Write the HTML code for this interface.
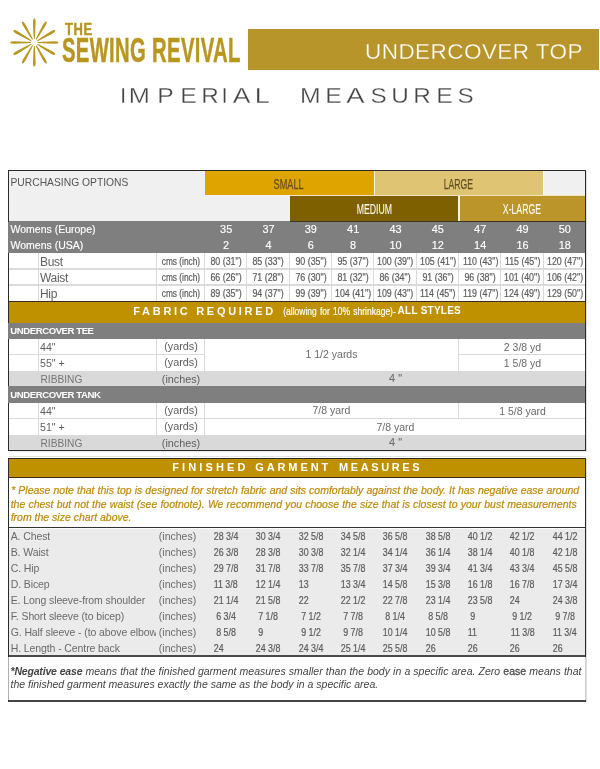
<!DOCTYPE html>
<html><head><meta charset="utf-8"><title>Undercover Top - Imperial Measures</title>
<style>
html,body{margin:0;padding:0;background:#fff;}
body{width:600px;height:769px;position:relative;overflow:hidden;font-family:"Liberation Sans",sans-serif;color:#666;}
.a{position:absolute;white-space:nowrap;}
.c{text-align:center;}
.t{position:absolute;white-space:nowrap;line-height:16px;height:16px;font-size:11.5px;color:#606060;}
.n{position:absolute;white-space:nowrap;line-height:16px;height:16px;font-size:10.8px;color:#5c5c5c;text-align:center;}
.n span{display:inline-block;transform:scaleX(0.82);transform-origin:50% 50%;-webkit-text-stroke:0.22px #5c5c5c;}
.n i{font-style:normal;visibility:hidden;}
.w{color:#fff;}
.hl{position:absolute;height:1.5px;background:#dadada;margin-top:-0.4px;}
.vl{position:absolute;width:1.5px;background:#dadada;margin-left:-0.25px;}
.cond{display:inline-block;transform-origin:50% 50%;}
</style></head><body><div id="pg" style="position:absolute;left:0;top:0;width:600px;height:769px;will-change:transform;">

<div class="a" style="left:248px;top:29px;width:351px;height:40.5px;background:#b8952a;"></div>
<div class="a" id="uct" style="left:365px;top:40px;font-size:22.5px;line-height:24px;color:#fff;-webkit-text-stroke:0.3px #b8952a;letter-spacing:0.45px;">UNDERCOVER TOP</div>
<svg class="a" style="left:8px;top:16px;" width="54" height="54" viewBox="0 0 54 54">
<path transform="translate(26.30 26.50) rotate(0)" d="M-0.4,-3.4 L0.4,-3.4 L0.85,-8 L1.3,-20 Q1.35,-23.8 0,-24.2 Q-1.35,-23.8 -1.3,-20 L-0.85,-8 Z" fill="#b8961f"/>
<path transform="translate(26.30 26.50) rotate(30)" d="M-0.4,-3.4 L0.4,-3.4 L0.85,-8 L1.3,-20 Q1.35,-23.8 0,-24.2 Q-1.35,-23.8 -1.3,-20 L-0.85,-8 Z" fill="#b8961f"/>
<path transform="translate(26.30 26.50) rotate(60)" d="M-0.4,-3.4 L0.4,-3.4 L0.85,-8 L1.3,-20 Q1.35,-23.8 0,-24.2 Q-1.35,-23.8 -1.3,-20 L-0.85,-8 Z" fill="#b8961f"/>
<path transform="translate(26.30 26.50) rotate(90)" d="M-0.4,-3.4 L0.4,-3.4 L0.85,-8 L1.3,-20 Q1.35,-23.8 0,-24.2 Q-1.35,-23.8 -1.3,-20 L-0.85,-8 Z" fill="#b8961f"/>
<path transform="translate(26.30 26.50) rotate(120)" d="M-0.4,-3.4 L0.4,-3.4 L0.85,-8 L1.3,-20 Q1.35,-23.8 0,-24.2 Q-1.35,-23.8 -1.3,-20 L-0.85,-8 Z" fill="#b8961f"/>
<path transform="translate(26.30 26.50) rotate(150)" d="M-0.4,-3.4 L0.4,-3.4 L0.85,-8 L1.3,-20 Q1.35,-23.8 0,-24.2 Q-1.35,-23.8 -1.3,-20 L-0.85,-8 Z" fill="#b8961f"/>
<path transform="translate(26.30 26.50) rotate(180)" d="M-0.4,-3.4 L0.4,-3.4 L0.85,-8 L1.3,-20 Q1.35,-23.8 0,-24.2 Q-1.35,-23.8 -1.3,-20 L-0.85,-8 Z" fill="#b8961f"/>
<path transform="translate(26.30 26.50) rotate(210)" d="M-0.4,-3.4 L0.4,-3.4 L0.85,-8 L1.3,-20 Q1.35,-23.8 0,-24.2 Q-1.35,-23.8 -1.3,-20 L-0.85,-8 Z" fill="#b8961f"/>
<path transform="translate(26.30 26.50) rotate(240)" d="M-0.4,-3.4 L0.4,-3.4 L0.85,-8 L1.3,-20 Q1.35,-23.8 0,-24.2 Q-1.35,-23.8 -1.3,-20 L-0.85,-8 Z" fill="#b8961f"/>
<path transform="translate(26.30 26.50) rotate(270)" d="M-0.4,-3.4 L0.4,-3.4 L0.85,-8 L1.3,-20 Q1.35,-23.8 0,-24.2 Q-1.35,-23.8 -1.3,-20 L-0.85,-8 Z" fill="#b8961f"/>
<path transform="translate(26.30 26.50) rotate(300)" d="M-0.4,-3.4 L0.4,-3.4 L0.85,-8 L1.3,-20 Q1.35,-23.8 0,-24.2 Q-1.35,-23.8 -1.3,-20 L-0.85,-8 Z" fill="#b8961f"/>
<path transform="translate(26.30 26.50) rotate(330)" d="M-0.4,-3.4 L0.4,-3.4 L0.85,-8 L1.3,-20 Q1.35,-23.8 0,-24.2 Q-1.35,-23.8 -1.3,-20 L-0.85,-8 Z" fill="#b8961f"/>
</svg>
<div class="a" style="left:64.5px;top:19.5px;font-size:16.6px;line-height:20px;font-weight:bold;color:#b8961f;-webkit-text-stroke:0.5px #b8961f;letter-spacing:0.8px;"><span class="cond" style="transform:scaleX(0.78);transform-origin:0 50%;">THE</span></div>
<div class="a" id="sr" style="left:62px;top:32px;font-size:35.5px;line-height:36px;font-weight:bold;color:#b8961f;-webkit-text-stroke:0.5px #b8961f;letter-spacing:0.6px;"><span class="cond" style="transform:scaleX(0.57);transform-origin:0 50%;">SEWING REVIVAL</span></div>
<div class="a c" style="left:103.1px;top:84px;width:40px;font-size:22.5px;line-height:24px;color:#444;-webkit-text-stroke:0.3px #fff;"><span class="cond" style="transform:scaleX(1);">I</span></div>
<div class="a c" style="left:119.6px;top:84px;width:40px;font-size:22.5px;line-height:24px;color:#444;-webkit-text-stroke:0.3px #fff;"><span class="cond" style="transform:scaleX(1.13);">M</span></div>
<div class="a c" style="left:145.7px;top:84px;width:40px;font-size:22.5px;line-height:24px;color:#444;-webkit-text-stroke:0.3px #fff;"><span class="cond" style="transform:scaleX(1.1);">P</span></div>
<div class="a c" style="left:168.5px;top:84px;width:40px;font-size:22.5px;line-height:24px;color:#444;-webkit-text-stroke:0.3px #fff;"><span class="cond" style="transform:scaleX(1.1);">E</span></div>
<div class="a c" style="left:190.3px;top:84px;width:40px;font-size:22.5px;line-height:24px;color:#444;-webkit-text-stroke:0.3px #fff;"><span class="cond" style="transform:scaleX(1.08);">R</span></div>
<div class="a c" style="left:204.7px;top:84px;width:40px;font-size:22.5px;line-height:24px;color:#444;-webkit-text-stroke:0.3px #fff;"><span class="cond" style="transform:scaleX(1);">I</span></div>
<div class="a c" style="left:221.8px;top:84px;width:40px;font-size:22.5px;line-height:24px;color:#444;-webkit-text-stroke:0.3px #fff;"><span class="cond" style="transform:scaleX(1.18);">A</span></div>
<div class="a c" style="left:242.3px;top:84px;width:40px;font-size:22.5px;line-height:24px;color:#444;-webkit-text-stroke:0.3px #fff;"><span class="cond" style="transform:scaleX(1.2);">L</span></div>
<div class="a c" style="left:290.75px;top:84px;width:40px;font-size:22.5px;line-height:24px;color:#444;-webkit-text-stroke:0.3px #fff;"><span class="cond" style="transform:scaleX(1.1);">M</span></div>
<div class="a c" style="left:313.7px;top:84px;width:40px;font-size:22.5px;line-height:24px;color:#444;-webkit-text-stroke:0.3px #fff;"><span class="cond" style="transform:scaleX(1.1);">E</span></div>
<div class="a c" style="left:335.6px;top:84px;width:40px;font-size:22.5px;line-height:24px;color:#444;-webkit-text-stroke:0.3px #fff;"><span class="cond" style="transform:scaleX(1.22);">A</span></div>
<div class="a c" style="left:358.25px;top:84px;width:40px;font-size:22.5px;line-height:24px;color:#444;-webkit-text-stroke:0.3px #fff;"><span class="cond" style="transform:scaleX(1.08);">S</span></div>
<div class="a c" style="left:379.75px;top:84px;width:40px;font-size:22.5px;line-height:24px;color:#444;-webkit-text-stroke:0.3px #fff;"><span class="cond" style="transform:scaleX(1.08);">U</span></div>
<div class="a c" style="left:402.5px;top:84px;width:40px;font-size:22.5px;line-height:24px;color:#444;-webkit-text-stroke:0.3px #fff;"><span class="cond" style="transform:scaleX(1.08);">R</span></div>
<div class="a c" style="left:424.7px;top:84px;width:40px;font-size:22.5px;line-height:24px;color:#444;-webkit-text-stroke:0.3px #fff;"><span class="cond" style="transform:scaleX(1.1);">E</span></div>
<div class="a c" style="left:445.5px;top:84px;width:40px;font-size:22.5px;line-height:24px;color:#444;-webkit-text-stroke:0.3px #fff;"><span class="cond" style="transform:scaleX(1.08);">S</span></div>
<div class="a" style="left:8px;top:170px;width:578px;height:51px;background:#f0f0f0;"></div>
<div class="a" style="left:205px;top:171px;width:169px;height:24px;background:#dfa400;"></div>
<div class="a" style="left:375px;top:171px;width:168px;height:24px;background:#dfc473;"></div>
<div class="a" style="left:290px;top:196px;width:168px;height:25px;background:#7f6000;"></div>
<div class="a" style="left:459px;top:196px;width:127px;height:25px;background:#bb952a;"></div>
<div class="a" style="left:373.8px;top:171px;width:1.7px;height:25px;background:#fbf4de;"></div>
<div class="a" style="left:458px;top:196px;width:1.7px;height:25px;background:#fbf4de;"></div>
<div class="a" style="left:542.6px;top:171px;width:1.6px;height:25px;background:#fff;"></div>
<div class="a" style="left:290px;top:194.8px;width:296px;height:1.3px;background:#f1e4bd;"></div>
<div class="a c" style="left:205px;top:171.5px;width:168px;font-size:15px;line-height:24px;color:#5f5026;-webkit-text-stroke:0.25px #5f5026;"><span class="cond" style="transform:scaleX(0.61);">SMALL</span></div>
<div class="a c" style="left:375px;top:171.5px;width:167px;font-size:15px;line-height:24px;color:#5f5026;-webkit-text-stroke:0.25px #5f5026;"><span class="cond" style="transform:scaleX(0.575);">LARGE</span></div>
<div class="a c" style="left:290px;top:197px;width:168px;font-size:15px;line-height:24px;color:#fffdf5;-webkit-text-stroke:0.1px #fffdf5;"><span class="cond" style="transform:scaleX(0.58);">MEDIUM</span></div>
<div class="a c" style="left:459px;top:197px;width:126px;font-size:15px;line-height:24px;color:#fffdf5;-webkit-text-stroke:0.1px #fffdf5;"><span class="cond" style="transform:scaleX(0.58);">X-LARGE</span></div>
<div class="t" style="left:10.5px;top:175px;font-size:10.3px;color:#555;">PURCHASING OPTIONS</div>
<div class="a" style="left:8px;top:221px;width:578px;height:32px;background:#7f7f7f;"></div>
<div class="a" style="left:290px;top:221px;width:296px;height:1px;background:#3c3420;"></div>
<div class="t w" style="left:10.5px;top:221px;font-size:10.5px;-webkit-text-stroke:0.15px #fff;">Womens (Europe)</div>
<div class="t w" style="left:10.5px;top:237px;font-size:10.5px;-webkit-text-stroke:0.15px #fff;">Womens (USA)</div>
<div class="t w c" style="left:205.0px;width:42.3px;top:221px;font-size:10.9px;-webkit-text-stroke:0.15px #fff;">35</div>
<div class="t w c" style="left:205.0px;width:42.3px;top:237px;font-size:10.9px;-webkit-text-stroke:0.15px #fff;">2</div>
<div class="t w c" style="left:247.3px;width:42.3px;top:221px;font-size:10.9px;-webkit-text-stroke:0.15px #fff;">37</div>
<div class="t w c" style="left:247.3px;width:42.3px;top:237px;font-size:10.9px;-webkit-text-stroke:0.15px #fff;">4</div>
<div class="t w c" style="left:289.7px;width:42.3px;top:221px;font-size:10.9px;-webkit-text-stroke:0.15px #fff;">39</div>
<div class="t w c" style="left:289.7px;width:42.3px;top:237px;font-size:10.9px;-webkit-text-stroke:0.15px #fff;">6</div>
<div class="t w c" style="left:332.0px;width:42.3px;top:221px;font-size:10.9px;-webkit-text-stroke:0.15px #fff;">41</div>
<div class="t w c" style="left:332.0px;width:42.3px;top:237px;font-size:10.9px;-webkit-text-stroke:0.15px #fff;">8</div>
<div class="t w c" style="left:374.3px;width:42.3px;top:221px;font-size:10.9px;-webkit-text-stroke:0.15px #fff;">43</div>
<div class="t w c" style="left:374.3px;width:42.3px;top:237px;font-size:10.9px;-webkit-text-stroke:0.15px #fff;">10</div>
<div class="t w c" style="left:416.7px;width:42.3px;top:221px;font-size:10.9px;-webkit-text-stroke:0.15px #fff;">45</div>
<div class="t w c" style="left:416.7px;width:42.3px;top:237px;font-size:10.9px;-webkit-text-stroke:0.15px #fff;">12</div>
<div class="t w c" style="left:459.0px;width:42.3px;top:221px;font-size:10.9px;-webkit-text-stroke:0.15px #fff;">47</div>
<div class="t w c" style="left:459.0px;width:42.3px;top:237px;font-size:10.9px;-webkit-text-stroke:0.15px #fff;">14</div>
<div class="t w c" style="left:501.3px;width:42.3px;top:221px;font-size:10.9px;-webkit-text-stroke:0.15px #fff;">49</div>
<div class="t w c" style="left:501.3px;width:42.3px;top:237px;font-size:10.9px;-webkit-text-stroke:0.15px #fff;">16</div>
<div class="t w c" style="left:543.7px;width:42.3px;top:221px;font-size:10.9px;-webkit-text-stroke:0.15px #fff;">50</div>
<div class="t w c" style="left:543.7px;width:42.3px;top:237px;font-size:10.9px;-webkit-text-stroke:0.15px #fff;">18</div>
<div class="t" style="left:40px;top:254px;font-size:12px;letter-spacing:-0.3px;">Bust</div>
<div class="n" style="left:156.5px;width:48px;top:254px;font-size:10.4px;"><span style="transform:scaleX(0.8);">cms (inch)</span></div>
<div class="n" style="left:201.0px;width:50.3px;top:253px;"><span>80 (31")</span></div>
<div class="n" style="left:243.3px;width:50.3px;top:253px;"><span>85 (33")</span></div>
<div class="n" style="left:285.7px;width:50.3px;top:253px;"><span>90 (35")</span></div>
<div class="n" style="left:328.0px;width:50.3px;top:253px;"><span>95 (37")</span></div>
<div class="n" style="left:370.3px;width:50.3px;top:253px;"><span>100 (39")</span></div>
<div class="n" style="left:412.7px;width:50.3px;top:253px;"><span>105 (41")</span></div>
<div class="n" style="left:455.0px;width:50.3px;top:253px;"><span>110 (43")</span></div>
<div class="n" style="left:497.3px;width:50.3px;top:253px;"><span>115 (45")</span></div>
<div class="n" style="left:539.7px;width:50.3px;top:253px;"><span>120 (47")</span></div>
<div class="t" style="left:40px;top:270px;font-size:12px;letter-spacing:-0.3px;">Waist</div>
<div class="n" style="left:156.5px;width:48px;top:270px;font-size:10.4px;"><span style="transform:scaleX(0.8);">cms (inch)</span></div>
<div class="n" style="left:201.0px;width:50.3px;top:269px;"><span>66 (26")</span></div>
<div class="n" style="left:243.3px;width:50.3px;top:269px;"><span>71 (28")</span></div>
<div class="n" style="left:285.7px;width:50.3px;top:269px;"><span>76 (30")</span></div>
<div class="n" style="left:328.0px;width:50.3px;top:269px;"><span>81 (32")</span></div>
<div class="n" style="left:370.3px;width:50.3px;top:269px;"><span>86 (34")</span></div>
<div class="n" style="left:412.7px;width:50.3px;top:269px;"><span>91 (36")</span></div>
<div class="n" style="left:455.0px;width:50.3px;top:269px;"><span>96 (38")</span></div>
<div class="n" style="left:497.3px;width:50.3px;top:269px;"><span>101 (40")</span></div>
<div class="n" style="left:539.7px;width:50.3px;top:269px;"><span>106 (42")</span></div>
<div class="hl" style="left:9px;width:577px;top:268.8px;"></div>
<div class="t" style="left:40px;top:286px;font-size:12px;letter-spacing:-0.3px;">Hip</div>
<div class="n" style="left:156.5px;width:48px;top:286px;font-size:10.4px;"><span style="transform:scaleX(0.8);">cms (inch)</span></div>
<div class="n" style="left:201.0px;width:50.3px;top:285px;"><span>89 (35")</span></div>
<div class="n" style="left:243.3px;width:50.3px;top:285px;"><span>94 (37")</span></div>
<div class="n" style="left:285.7px;width:50.3px;top:285px;"><span>99 (39")</span></div>
<div class="n" style="left:328.0px;width:50.3px;top:285px;"><span>104 (41")</span></div>
<div class="n" style="left:370.3px;width:50.3px;top:285px;"><span>109 (43")</span></div>
<div class="n" style="left:412.7px;width:50.3px;top:285px;"><span>114 (45")</span></div>
<div class="n" style="left:455.0px;width:50.3px;top:285px;"><span>119 (47")</span></div>
<div class="n" style="left:497.3px;width:50.3px;top:285px;"><span>124 (49")</span></div>
<div class="n" style="left:539.7px;width:50.3px;top:285px;"><span>129 (50")</span></div>
<div class="hl" style="left:9px;width:577px;top:284.6px;"></div>
<div class="vl" style="left:38px;top:253px;height:48px;"></div>
<div class="vl" style="left:156px;top:253px;height:48px;"></div>
<div class="vl" style="left:204px;top:253px;height:48px;"></div>
<div class="vl" style="left:246px;top:253px;height:48px;"></div>
<div class="vl" style="left:289px;top:253px;height:48px;"></div>
<div class="vl" style="left:331px;top:253px;height:48px;"></div>
<div class="vl" style="left:373px;top:253px;height:48px;"></div>
<div class="vl" style="left:416px;top:253px;height:48px;"></div>
<div class="vl" style="left:458px;top:253px;height:48px;"></div>
<div class="vl" style="left:500px;top:253px;height:48px;"></div>
<div class="vl" style="left:543px;top:253px;height:48px;"></div>
<div class="a" style="left:8px;top:301px;width:578px;height:21.5px;background:#bf9000;"></div>
<div class="a" style="left:8px;top:301px;width:578px;height:1px;background:#3a2f1a;"></div>
<div class="a" id="fab" style="left:133.3px;top:303px;line-height:16px;font-size:11px;color:#fff;font-weight:bold;letter-spacing:2.7px;">FABRIC REQUIRED</div>
<div class="a" id="allow" style="left:269px;top:303px;line-height:16px;font-size:10.5px;color:#fff;width:140px;text-align:center;"><span class="cond" style="transform:scaleX(0.81);word-spacing:1px;-webkit-text-stroke:0.2px #fff;">(allowing for 10% shrinkage)-</span></div>
<div class="a" id="alls" style="left:397.6px;top:303px;line-height:16px;font-size:10px;color:#fff;font-weight:bold;letter-spacing:0.25px;">ALL STYLES</div>
<div class="a" style="left:8px;top:322.5px;width:578px;height:16.5px;background:#7f7f7f;"></div>
<div class="t w" style="left:10.3px;top:322.5px;font-size:9.6px;font-weight:bold;letter-spacing:-0.45px;">UNDERCOVER TEE</div>
<div class="a" style="left:9px;top:371px;width:577px;height:15px;background:#d9d9d9;"></div>
<div class="t" style="left:40px;top:339px;font-size:10.6px;">44"</div>
<div class="t c" style="left:157px;width:48px;top:338px;font-size:10.8px;">(yards)</div>
<div class="t" style="left:40px;top:355px;font-size:10.6px;">55" +</div>
<div class="t c" style="left:157px;width:48px;top:354px;font-size:10.8px;">(yards)</div>
<div class="t" style="left:40.5px;top:371.5px;font-size:10.2px;color:#757575;">RIBBING</div>
<div class="t c" style="left:157px;width:48px;top:370.5px;font-size:10.8px;">(inches)</div>
<div class="hl" style="left:9px;width:196px;top:354px;"></div>
<div class="vl" style="left:38px;top:339px;height:32px;"></div>
<div class="vl" style="left:156px;top:339px;height:32px;"></div>
<div class="vl" style="left:204px;top:339px;height:32px;"></div>
<div class="vl" style="left:458px;top:339px;height:32px;"></div>
<div class="hl" style="left:459px;width:127px;top:354px;"></div>
<div class="t c" style="left:205px;width:253px;top:346px;font-size:10.5px;color:#6a6a6a;">1 1/2 yards</div>
<div class="t c" style="left:459px;width:127px;top:339px;font-size:10.5px;color:#6a6a6a;">2 3/8 yd</div>
<div class="t c" style="left:459px;width:127px;top:354.5px;font-size:10.5px;color:#6a6a6a;">1 5/8 yd</div>
<div class="t c" style="left:205px;width:381px;top:370px;font-size:11px;color:#707070;-webkit-text-stroke:0.12px #707070;">4 "</div>
<div class="a" style="left:8px;top:386px;width:578px;height:16.5px;background:#7f7f7f;"></div>
<div class="t w" style="left:10.3px;top:386.5px;font-size:9.6px;font-weight:bold;letter-spacing:-0.45px;">UNDERCOVER TANK</div>
<div class="a" style="left:9px;top:435px;width:577px;height:15px;background:#d9d9d9;"></div>
<div class="t" style="left:40px;top:403px;font-size:10.6px;">44"</div>
<div class="t c" style="left:157px;width:48px;top:402px;font-size:10.8px;">(yards)</div>
<div class="t" style="left:40px;top:419px;font-size:10.6px;">51" +</div>
<div class="t c" style="left:157px;width:48px;top:418px;font-size:10.8px;">(yards)</div>
<div class="t" style="left:40.5px;top:435.5px;font-size:10.2px;color:#757575;">RIBBING</div>
<div class="t c" style="left:157px;width:48px;top:434.5px;font-size:10.8px;">(inches)</div>
<div class="hl" style="left:9px;width:196px;top:418px;"></div>
<div class="vl" style="left:38px;top:403px;height:32px;"></div>
<div class="vl" style="left:156px;top:403px;height:32px;"></div>
<div class="vl" style="left:204px;top:403px;height:32px;"></div>
<div class="vl" style="left:458px;top:403px;height:16px;"></div>
<div class="hl" style="left:205px;width:381px;top:418px;"></div>
<div class="t c" style="left:205px;width:253px;top:402px;font-size:10.5px;color:#6a6a6a;">7/8 yard</div>
<div class="t c" style="left:459px;width:127px;top:403px;font-size:10.5px;color:#6a6a6a;">1 5/8 yard</div>
<div class="t c" style="left:205px;width:381px;top:418.5px;font-size:10.5px;color:#6a6a6a;">7/8 yard</div>
<div class="t c" style="left:205px;width:381px;top:434px;font-size:11px;color:#707070;-webkit-text-stroke:0.12px #707070;">4 "</div>
<div class="a" style="left:586px;top:165px;width:3px;height:290px;background:#fff;"></div>
<div class="a" style="left:8px;top:170px;width:576px;height:279px;border:1px solid #2a2a2a;box-sizing:content-box;"></div>
<div class="a" style="left:586px;top:171px;width:1px;height:281px;background:#dedede;"></div>
<div class="a" style="left:8px;top:222px;width:1px;height:31px;background:#7f7f7f;"></div>
<div class="a" style="left:8px;top:323px;width:1px;height:16px;background:#7f7f7f;"></div>
<div class="a" style="left:8px;top:386px;width:1px;height:17px;background:#7f7f7f;"></div>
<div class="a" style="left:9px;top:451px;width:578px;height:1px;background:#e8e8e8;"></div>
<div class="a" style="left:9px;top:456px;width:578px;height:1px;background:#e6e6e6;"></div>
<div class="a" style="left:8px;top:458px;width:578px;height:19.5px;background:#bf9000;"></div>
<div class="a" style="left:8px;top:477px;width:578px;height:1px;background:#3a2f1a;"></div>
<div class="a" style="left:172.3px;top:459.3px;line-height:16px;font-size:11px;color:#fff;font-weight:bold;letter-spacing:3.1px;">FINISHED</div>
<div class="a" style="left:255.2px;top:459.3px;line-height:16px;font-size:11px;color:#fff;font-weight:bold;letter-spacing:2.9px;">GARMENT</div>
<div class="a" style="left:339px;top:459.3px;line-height:16px;font-size:11px;color:#fff;font-weight:bold;letter-spacing:2.6px;">MEASURES</div>
<div class="a" style="left:11.2px;top:483.3px;width:568px;line-height:14px;font-size:10.5px;color:#bf8b0c;-webkit-text-stroke:0.22px #bf8b0c;font-style:italic;text-align:justify;text-align-last:justify;">* Please note that this top is designed for stretch fabric and sits comfortably against the body. It has negative ease around</div>
<div class="a" style="left:10.7px;top:496.8px;width:566px;line-height:14px;font-size:10.5px;color:#bf8b0c;-webkit-text-stroke:0.22px #bf8b0c;font-style:italic;text-align:justify;text-align-last:justify;">the chest but not the waist (see footnote). We recommend you choose the size that is closest to your bust measurements</div>
<div class="a" style="left:10.7px;top:510.3px;line-height:14px;font-size:10.5px;color:#bf8b0c;-webkit-text-stroke:0.22px #bf8b0c;font-style:italic;">from the size chart above.</div>
<div class="a" style="left:9px;top:529px;width:577px;height:126px;background:#ebebeb;"></div>
<div class="a" style="left:8px;top:527px;width:578px;height:1px;background:#333;"></div>
<div class="t" style="left:10.7px;top:528px;font-size:10.5px;letter-spacing:-0.1px;color:#6a6a6a;max-width:145.3px;overflow:hidden;">A. Chest</div>
<div class="t" style="left:158.8px;top:528px;font-size:10.5px;color:#6a6a6a;">(inches)</div>
<div class="n" style="left:200.7px;width:50.3px;top:528px;"><span>28 3/4</span></div>
<div class="n" style="left:243.0px;width:50.3px;top:528px;"><span>30 3/4</span></div>
<div class="n" style="left:285.4px;width:50.3px;top:528px;"><span>32 5/8</span></div>
<div class="n" style="left:327.7px;width:50.3px;top:528px;"><span>34 5/8</span></div>
<div class="n" style="left:370.0px;width:50.3px;top:528px;"><span>36 5/8</span></div>
<div class="n" style="left:412.4px;width:50.3px;top:528px;"><span>38 5/8</span></div>
<div class="n" style="left:454.7px;width:50.3px;top:528px;"><span>40 1/2</span></div>
<div class="n" style="left:497.0px;width:50.3px;top:528px;"><span>42 1/2</span></div>
<div class="n" style="left:539.4px;width:50.3px;top:528px;"><span>44 1/2</span></div>
<div class="t" style="left:10.7px;top:544px;font-size:10.5px;letter-spacing:-0.1px;color:#6a6a6a;max-width:145.3px;overflow:hidden;">B. Waist</div>
<div class="t" style="left:158.8px;top:544px;font-size:10.5px;color:#6a6a6a;">(inches)</div>
<div class="n" style="left:200.7px;width:50.3px;top:544px;"><span>26 3/8</span></div>
<div class="n" style="left:243.0px;width:50.3px;top:544px;"><span>28 3/8</span></div>
<div class="n" style="left:285.4px;width:50.3px;top:544px;"><span>30 3/8</span></div>
<div class="n" style="left:327.7px;width:50.3px;top:544px;"><span>32 1/4</span></div>
<div class="n" style="left:370.0px;width:50.3px;top:544px;"><span>34 1/4</span></div>
<div class="n" style="left:412.4px;width:50.3px;top:544px;"><span>36 1/4</span></div>
<div class="n" style="left:454.7px;width:50.3px;top:544px;"><span>38 1/4</span></div>
<div class="n" style="left:497.0px;width:50.3px;top:544px;"><span>40 1/8</span></div>
<div class="n" style="left:539.4px;width:50.3px;top:544px;"><span>42 1/8</span></div>
<div class="t" style="left:10.7px;top:560px;font-size:10.5px;letter-spacing:-0.1px;color:#6a6a6a;max-width:145.3px;overflow:hidden;">C. Hip</div>
<div class="t" style="left:158.8px;top:560px;font-size:10.5px;color:#6a6a6a;">(inches)</div>
<div class="n" style="left:200.7px;width:50.3px;top:560px;"><span>29 7/8</span></div>
<div class="n" style="left:243.0px;width:50.3px;top:560px;"><span>31 7/8</span></div>
<div class="n" style="left:285.4px;width:50.3px;top:560px;"><span>33 7/8</span></div>
<div class="n" style="left:327.7px;width:50.3px;top:560px;"><span>35 7/8</span></div>
<div class="n" style="left:370.0px;width:50.3px;top:560px;"><span>37 3/4</span></div>
<div class="n" style="left:412.4px;width:50.3px;top:560px;"><span>39 3/4</span></div>
<div class="n" style="left:454.7px;width:50.3px;top:560px;"><span>41 3/4</span></div>
<div class="n" style="left:497.0px;width:50.3px;top:560px;"><span>43 3/4</span></div>
<div class="n" style="left:539.4px;width:50.3px;top:560px;"><span>45 5/8</span></div>
<div class="t" style="left:10.7px;top:576px;font-size:10.5px;letter-spacing:-0.1px;color:#6a6a6a;max-width:145.3px;overflow:hidden;">D. Bicep</div>
<div class="t" style="left:158.8px;top:576px;font-size:10.5px;color:#6a6a6a;">(inches)</div>
<div class="n" style="left:200.7px;width:50.3px;top:576px;"><span>11 3/8</span></div>
<div class="n" style="left:243.0px;width:50.3px;top:576px;"><span>12 1/4</span></div>
<div class="n" style="left:285.4px;width:50.3px;top:576px;"><span>13<i> 1/2</i></span></div>
<div class="n" style="left:327.7px;width:50.3px;top:576px;"><span>13 3/4</span></div>
<div class="n" style="left:370.0px;width:50.3px;top:576px;"><span>14 5/8</span></div>
<div class="n" style="left:412.4px;width:50.3px;top:576px;"><span>15 3/8</span></div>
<div class="n" style="left:454.7px;width:50.3px;top:576px;"><span>16 1/8</span></div>
<div class="n" style="left:497.0px;width:50.3px;top:576px;"><span>16 7/8</span></div>
<div class="n" style="left:539.4px;width:50.3px;top:576px;"><span>17 3/4</span></div>
<div class="t" style="left:10.7px;top:592px;font-size:10.5px;letter-spacing:-0.1px;color:#6a6a6a;max-width:145.3px;overflow:hidden;">E. Long sleeve-from shoulder</div>
<div class="t" style="left:158.8px;top:592px;font-size:10.5px;color:#6a6a6a;">(inches)</div>
<div class="n" style="left:200.7px;width:50.3px;top:592px;"><span>21 1/4</span></div>
<div class="n" style="left:243.0px;width:50.3px;top:592px;"><span>21 5/8</span></div>
<div class="n" style="left:285.4px;width:50.3px;top:592px;"><span>22<i> 1/2</i></span></div>
<div class="n" style="left:327.7px;width:50.3px;top:592px;"><span>22 1/2</span></div>
<div class="n" style="left:370.0px;width:50.3px;top:592px;"><span>22 7/8</span></div>
<div class="n" style="left:412.4px;width:50.3px;top:592px;"><span>23 1/4</span></div>
<div class="n" style="left:454.7px;width:50.3px;top:592px;"><span>23 5/8</span></div>
<div class="n" style="left:497.0px;width:50.3px;top:592px;"><span>24<i> 1/2</i></span></div>
<div class="n" style="left:539.4px;width:50.3px;top:592px;"><span>24 3/8</span></div>
<div class="t" style="left:10.7px;top:608px;font-size:10.5px;letter-spacing:-0.1px;color:#6a6a6a;max-width:145.3px;overflow:hidden;">F. Short sleeve (to bicep)</div>
<div class="t" style="left:158.8px;top:608px;font-size:10.5px;color:#6a6a6a;">(inches)</div>
<div class="n" style="left:200.7px;width:50.3px;top:608px;"><span>6 3/4</span></div>
<div class="n" style="left:243.0px;width:50.3px;top:608px;"><span>7 1/8</span></div>
<div class="n" style="left:285.4px;width:50.3px;top:608px;"><span>7 1/2</span></div>
<div class="n" style="left:327.7px;width:50.3px;top:608px;"><span>7 7/8</span></div>
<div class="n" style="left:370.0px;width:50.3px;top:608px;"><span>8 1/4</span></div>
<div class="n" style="left:412.4px;width:50.3px;top:608px;"><span>8 5/8</span></div>
<div class="n" style="left:454.7px;width:50.3px;top:608px;"><span>9<i> 1/2</i></span></div>
<div class="n" style="left:497.0px;width:50.3px;top:608px;"><span>9 1/2</span></div>
<div class="n" style="left:539.4px;width:50.3px;top:608px;"><span>9 7/8</span></div>
<div class="t" style="left:10.7px;top:624px;font-size:10.5px;letter-spacing:-0.1px;color:#6a6a6a;max-width:145.3px;overflow:hidden;">G. Half sleeve - (to above elbow</div>
<div class="t" style="left:158.8px;top:624px;font-size:10.5px;color:#6a6a6a;">(inches)</div>
<div class="n" style="left:200.7px;width:50.3px;top:624px;"><span>8 5/8</span></div>
<div class="n" style="left:243.0px;width:50.3px;top:624px;"><span>9<i> 1/2</i></span></div>
<div class="n" style="left:285.4px;width:50.3px;top:624px;"><span>9 1/2</span></div>
<div class="n" style="left:327.7px;width:50.3px;top:624px;"><span>9 7/8</span></div>
<div class="n" style="left:370.0px;width:50.3px;top:624px;"><span>10 1/4</span></div>
<div class="n" style="left:412.4px;width:50.3px;top:624px;"><span>10 5/8</span></div>
<div class="n" style="left:454.7px;width:50.3px;top:624px;"><span>11<i> 1/2</i></span></div>
<div class="n" style="left:497.0px;width:50.3px;top:624px;"><span>11 3/8</span></div>
<div class="n" style="left:539.4px;width:50.3px;top:624px;"><span>11 3/4</span></div>
<div class="t" style="left:10.7px;top:640px;font-size:10.5px;letter-spacing:-0.1px;color:#6a6a6a;max-width:145.3px;overflow:hidden;">H. Length - Centre back</div>
<div class="t" style="left:158.8px;top:640px;font-size:10.5px;color:#6a6a6a;">(inches)</div>
<div class="n" style="left:200.7px;width:50.3px;top:640px;"><span>24<i> 1/2</i></span></div>
<div class="n" style="left:243.0px;width:50.3px;top:640px;"><span>24 3/8</span></div>
<div class="n" style="left:285.4px;width:50.3px;top:640px;"><span>24 3/4</span></div>
<div class="n" style="left:327.7px;width:50.3px;top:640px;"><span>25 1/4</span></div>
<div class="n" style="left:370.0px;width:50.3px;top:640px;"><span>25 5/8</span></div>
<div class="n" style="left:412.4px;width:50.3px;top:640px;"><span>26<i> 1/2</i></span></div>
<div class="n" style="left:454.7px;width:50.3px;top:640px;"><span>26<i> 1/2</i></span></div>
<div class="n" style="left:497.0px;width:50.3px;top:640px;"><span>26<i> 1/2</i></span></div>
<div class="n" style="left:539.4px;width:50.3px;top:640px;"><span>26<i> 1/2</i></span></div>
<div class="a" style="left:8px;top:655px;width:578px;height:2px;background:#4a4a4a;"></div>
<div class="a" style="left:10.5px;top:664px;width:571px;line-height:14px;font-size:10.5px;color:#444;font-style:italic;text-align:justify;text-align-last:justify;"><b style="letter-spacing:-0.18px;">*Negative ease</b> means that the finished garment measures smaller than the body in a specific area. Zero <span style="-webkit-text-stroke:0.28px #4a4a4a;color:#4a4a4a;font-style:normal;">ease</span> means that</div>
<div class="a" style="left:10.5px;top:677px;line-height:14px;font-size:10.5px;color:#444;font-style:italic;">the finished garment measures exactly the same as the body in a specific area.</div>
<div class="a" style="left:586px;top:455px;width:3px;height:250px;background:#fff;"></div>
<div class="a" style="left:8px;top:458px;width:576px;height:241px;border:1px solid #2a2a2a;border-bottom:2px solid #444;box-sizing:content-box;"></div>
<div class="a" style="left:8px;top:657px;width:1px;height:43px;background:#b0b0b0;"></div>
<div class="a" style="left:585px;top:657px;width:1px;height:43px;background:#cfcfcf;"></div>
<div class="a" style="left:586px;top:459px;width:1px;height:243px;background:#dedede;"></div>
</div></body></html>
